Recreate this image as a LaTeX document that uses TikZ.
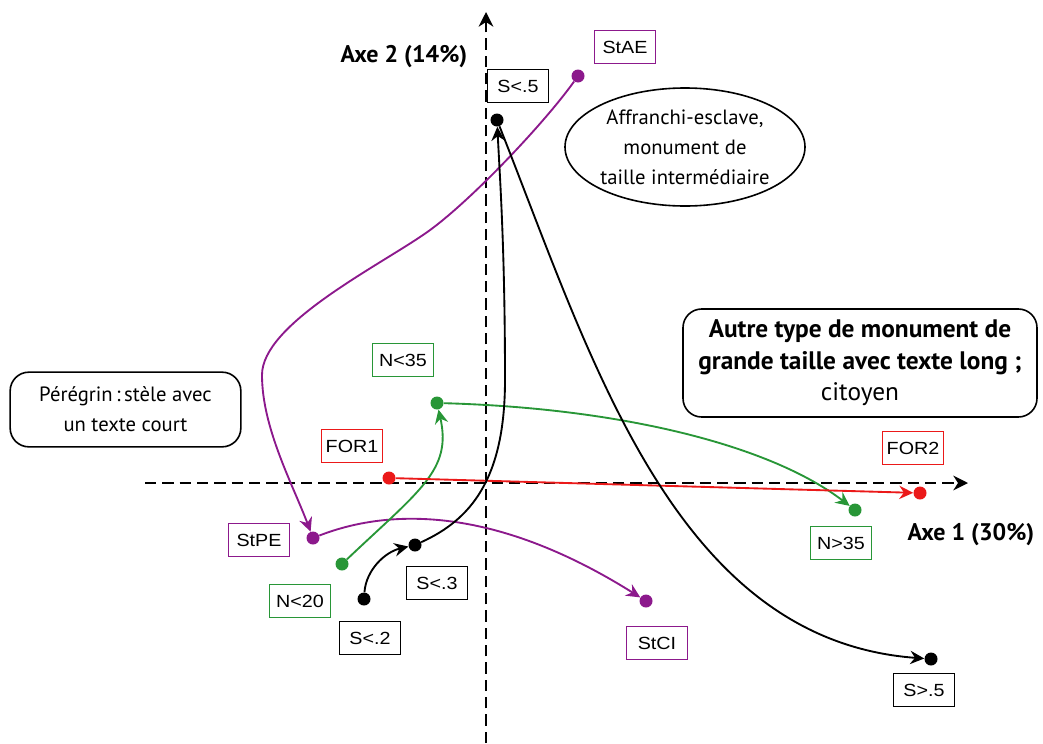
\documentclass[tikz,border=0pt]{standalone}
\usepackage{fontspec}
\setmainfont{PT Sans}
\newfontfamily\labfont[FakeStretch=1.12]{Liberation Sans}
\usetikzlibrary{arrows.meta,shapes.geometric}
\definecolor{vio}{RGB}{140,25,140}
\definecolor{grn}{RGB}{40,150,55}
\definecolor{rd}{RGB}{235,25,25}
\begin{document}
\begin{tikzpicture}[x=0.75pt,y=-0.75pt,
  dot/.style={circle,fill,inner sep=0pt,minimum size=9.75pt},
  lab/.style={draw,line width=1.1pt,inner sep=0pt,minimum width=46pt,minimum height=25pt,text=black,font=\labfont\fontsize{13.2}{15}\selectfont},
  conn/.style={line width=1.4pt,-{Stealth[length=10.5pt,width=10pt,inset=3.5pt]}},
  axis/.style={line width=1.5pt,dash pattern=on 8.5pt off 4.5pt,-{Stealth[length=11pt,width=11pt,inset=3.5pt]}},
  rbox/.style={draw,line width=1.2pt,rounded corners=14pt,align=center,inner sep=0pt},
  txt/.style={font=\fontsize{15.5}{22.5}\selectfont},
  bigtxt/.style={font=\fontsize{19}{23.6}\selectfont},
  axlab/.style={font=\bfseries\fontsize{18}{21}\selectfont}
]
\useasboundingbox (0,0) rectangle (1043,743);
% axes
\coordinate (yb) at (486,743);
\coordinate (yt) at (486,12);
\coordinate (xl) at (145,483);
\coordinate (xr) at (968,483);
\draw[axis] (yb) -- (yt);
\draw[axis] (xl) -- (xr);
\node[axlab] (ax2) at (404,57) {Axe 2 (14\%)};
\node[axlab] (ax1) at (971,535) {Axe 1 (30\%)};

% text boxes
\node[rbox,minimum width=173pt,minimum height=56pt,txt] (per) at (125.5,409.5) {Pérégrin\,:\,stèle avec\\un texte court};
\node[rbox,minimum width=265.5pt,minimum height=81pt,bigtxt] (aut) at (860,363) {\textbf{Autre type de monument de}\\\textbf{grande taille avec texte long ;}\\citoyen};
\node[draw,ellipse,line width=1.2pt,minimum width=180pt,minimum height=88.5pt,inner sep=0pt,align=center,txt] (aff) at (685,147) {Affranchi-esclave,\\monument de\\taille intermédiaire};

% dots
\node[dot,vio] (stae) at (578,76) {};
\node[dot] (s5) at (497,120) {};
\node[dot,vio] (stpe) at (313,538) {};
\node[dot,grn] (n20) at (342,564) {};
\node[dot,grn] (n35) at (437,403) {};
\node[dot,rd] (f1) at (389,478) {};
\node[dot,rd] (f2) at (920,493) {};
\node[dot,grn] (n35b) at (855,510) {};
\node[dot] (s3) at (415,545) {};
\node[dot] (s2) at (364,599) {};
\node[dot,vio] (stci) at (646,601) {};
\node[dot] (s5b) at (931,659) {};

% labels
\node[lab,draw=vio] (lstae) at (625,47) {StAE};
\node[lab] (ls5) at (518,86) {S<.5};
\node[lab,draw=grn] (ln35) at (403,360) {N<35};
\node[lab,draw=rd] (lf1) at (352,446) {FOR1};
\node[lab,draw=rd] (lf2) at (913,448) {FOR2};
\node[lab,draw=grn] (ln35b) at (841,543) {N>35};
\node[lab,draw=vio] (lstpe) at (259,540) {StPE};
\node[lab,draw=grn] (ln20) at (300,601) {N<20};
\node[lab] (ls3) at (437,583) {S<.3};
\node[lab] (ls2) at (370,638) {S<.2};
\node[lab,draw=vio] (lstci) at (657,643) {StCI};
\node[lab] (ls5b) at (924,690) {S>.5};

% connectors
\draw[conn,vio] (stae) .. controls (543,125) and (465,207) .. (423,235) .. controls (373,269) and (262,325) .. (262,375) .. controls (262,428) and (293,485) .. (stpe);
\draw[conn,vio] (stpe) .. controls (385,510) and (490,503) .. (stci);
\draw[conn,grn] (n20) .. controls (420,490) and (452,470) .. (n35);
\draw[conn,grn] (n35) .. controls (620,408) and (770,445) .. (n35b);
\draw[conn,rd] (f1) -- (f2);
\draw[conn] (s2) .. controls (366,570) and (385,552) .. (s3);
\draw[conn] (s3) .. controls (470,520) and (505,480) .. (505,380) .. controls (505,250) and (500,180) .. (s5);
\draw[conn] (s5) .. controls (592,360) and (675,640) .. (s5b);
\end{tikzpicture}
\end{document}
